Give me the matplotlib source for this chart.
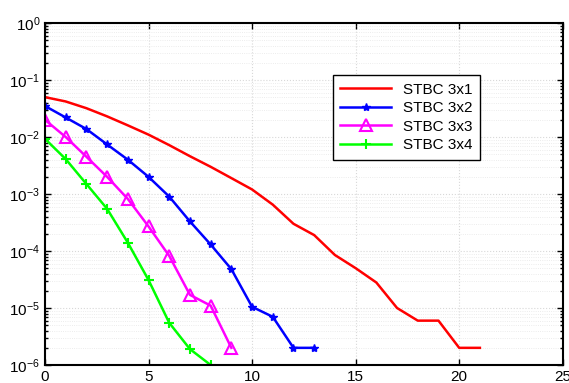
import numpy as np
import matplotlib
matplotlib.use("Agg")
import matplotlib.pyplot as plt
from matplotlib.ticker import LogLocator, NullFormatter

plt.rcParams['font.family'] = ['Liberation Sans', 'DejaVu Sans']
plt.rcParams['mathtext.default'] = 'regular'

# SNR axis and BER values
snr1 = np.arange(0, 22)
ber1 = [0.05, 0.042, 0.032, 0.023, 0.016, 0.011, 0.0072, 0.0046, 0.003, 0.0019,
        0.0012, 0.00065, 0.0003, 0.00019, 8.5e-5, 5e-5, 2.8e-5, 1e-5, 6e-6, 6e-6,
        2e-6, 2e-6]

snr2 = np.arange(0, 14)
ber2 = [0.035, 0.022, 0.0138, 0.0074, 0.004, 0.002, 0.0009, 3.3e-4, 1.3e-4,
        4.8e-5, 1.05e-5, 7e-6, 2e-6, 2e-6]

snr3 = np.arange(0, 10)
ber3 = [0.02, 0.010, 0.0045, 0.002, 8.2e-4, 2.7e-4, 8.2e-5, 1.7e-5, 1.1e-5, 2e-6]

snr4 = np.arange(0, 9)
ber4 = [0.0093, 0.0041, 0.0015, 5.5e-4, 1.4e-4, 3.1e-5, 5.5e-6, 1.9e-6, 1e-6]

labels = ['STBC 3x1', 'STBC 3x2', 'STBC 3x3', 'STBC 3x4']

fig = plt.figure(figsize=(5.69, 3.83), dpi=100)
ax = fig.add_axes([0.079, 0.047, 0.91, 0.893])

ax.semilogy(snr1, ber1, '-', color='#ff0000', lw=1.8, label=labels[0])
ax.semilogy(snr2, ber2, '-*', color='#0000ff', lw=1.8, ms=6, label=labels[1])
ax.semilogy(snr3, ber3, '-^', color='#ff00ff', lw=1.8, ms=8, mfc='none',
            mew=1.5, label=labels[2])
ax.semilogy(snr4, ber4, '-+', color='#00ff00', lw=1.8, ms=7, mew=1.5,
            label=labels[3])

ax.set_xlim(0, 25)
ax.set_ylim(1e-6, 1)
ax.set_xticks([0, 5, 10, 15, 20, 25])
ax.yaxis.set_major_locator(LogLocator(base=10, numticks=10))
ax.yaxis.set_minor_locator(LogLocator(base=10, subs=np.arange(2, 10), numticks=10))
ax.yaxis.set_minor_formatter(NullFormatter())

ax.grid(True, which='major', color='#d8d8d8', ls=':', lw=0.8)
ax.grid(True, which='minor', axis='y', color='#e6e6e6', ls=':', lw=0.6)
ax.tick_params(direction='in', top=True, right=True, which='both',
               labelsize=11, width=1)
ax.tick_params(which='major', length=4)
for s in ax.spines.values():
    s.set_linewidth(1.5)

ax.legend(loc='upper left', bbox_to_anchor=(0.556, 0.848), fontsize=11,
          fancybox=False, edgecolor='black', framealpha=1, handlelength=3.3,
          borderpad=0.5, labelspacing=0.3, borderaxespad=0)

fig.savefig('out.png', dpi=100)
